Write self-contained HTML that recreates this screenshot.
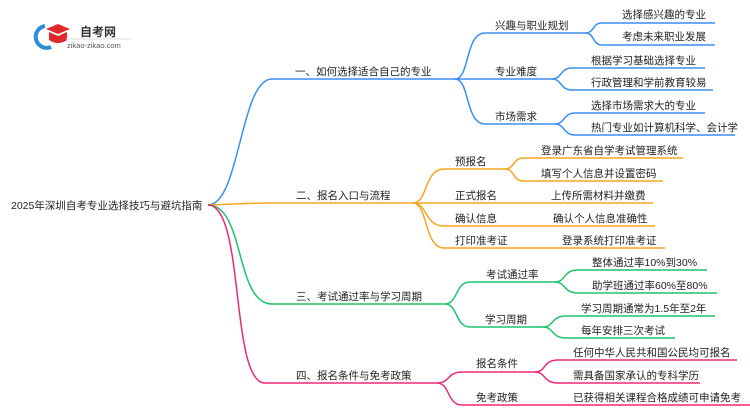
<!DOCTYPE html>
<html><head><meta charset="utf-8"><style>
html,body{margin:0;padding:0;background:#fff;width:750px;height:410px;overflow:hidden}
svg text{font-family:"Liberation Sans","Noto Sans CJK SC",sans-serif;font-size:10.5px;fill:#222}
</style></head><body>
<svg width="750" height="410" viewBox="0 0 750 410" xmlns="http://www.w3.org/2000/svg">
<g>
<path d="M45 26 A11 11 0 1 0 51 47" fill="none" stroke="#2a8fd8" stroke-width="4"/>
<polygon points="46,29 58,24 70,29 58,34" fill="#e02a2a"/>
<path d="M49 32 L49 40 Q58 46 67 40 L67 32 L58 36 Z" fill="#e02a2a"/>
<text x="80" y="36" style="font-size:12px;font-weight:bold;fill:#333">自考网</text>
<line x1="66" y1="39" x2="131" y2="39" stroke="#ddd" stroke-width="1"/>
<text x="67" y="48" style="font-size:7.5px;fill:#555">zikao-zikao.com</text>
</g>
<text x="11" y="209">2025年深圳自考专业选择技巧与避坑指南</text>
<g fill="none" stroke-width="1.5">
<g stroke="#3a8ef0">
<path d="M208 205 C240 205,240 79,272 79 L455 79"/>
<path d="M455 79 C470 79,465 33,485 33 L585 33"/>
<path d="M585 33 C595 33,592 23,602 23 L715 23"/>
<path d="M585 33 C595 33,592 45,602 45 L715 45"/>
<path d="M455 79 L552 79"/>
<path d="M455 79 C470 79,465 124,485 124 L555 124"/>
<path d="M552 79 C562 79,560 68,572 68 L705 68"/>
<path d="M552 79 C562 79,560 90,572 90 L713 90"/>
<path d="M555 124 C565 124,563 113,575 113 L705 113"/>
<path d="M555 124 C565 124,563 135,575 135 L735 135"/>
</g>
<g stroke="#f5a623">
<path d="M208 205 C240 204,250 203,272 203 L413 203"/>
<path d="M413 203 C428 203,424 169,444 169 L505 169"/>
<path d="M505 169 C515 169,512 158,524 158 L683 158"/>
<path d="M505 169 C515 169,512 181,524 181 L663 181"/>
<path d="M413 203 L653 203"/>
<path d="M413 203 C428 203,424 226,444 226 L655 226"/>
<path d="M413 203 C428 203,424 248,444 248 L665 248"/>
</g>
<g stroke="#1fc46b">
<path d="M208 205 C245 205,235 304,272 304 L445 304"/>
<path d="M445 304 C458 304,455 282,470 282 L555 282"/>
<path d="M445 304 C458 304,455 327,470 327 L543 327"/>
<path d="M555 282 C566 282,563 270,578 270 L707 270"/>
<path d="M555 282 C566 282,563 293,578 293 L717 293"/>
<path d="M543 327 C554 327,551 316,566 316 L715 316"/>
<path d="M543 327 C554 327,551 338,566 338 L675 338"/>
</g>
<g stroke="#f0287a">
<path d="M208 205 C245 205,230 383,265 383 L437 383"/>
<path d="M437 383 C450 383,447 372,462 372 L535 372"/>
<path d="M437 383 C450 383,447 405,462 405 L750 405"/>
<path d="M535 372 C546 372,543 360,558 360 L737 360"/>
<path d="M535 372 C546 372,543 383,558 383 L700 383"/>
</g>
</g>
<text x="295" y="75">一、如何选择适合自己的专业</text>
<text x="495" y="29">兴趣与职业规划</text>
<text x="622" y="18">选择感兴趣的专业</text>
<text x="622" y="40">考虑未来职业发展</text>
<text x="495" y="75">专业难度</text>
<text x="591" y="64">根据学习基础选择专业</text>
<text x="591" y="86">行政管理和学前教育较易</text>
<text x="495" y="120">市场需求</text>
<text x="591" y="109">选择市场需求大的专业</text>
<text x="591" y="131">热门专业如计算机科学、会计学</text>

<text x="296" y="199">二、报名入口与流程</text>
<text x="455" y="165">预报名</text>
<text x="541" y="154">登录广东省自学考试管理系统</text>
<text x="541" y="177">填写个人信息并设置密码</text>
<text x="455" y="199">正式报名</text>
<text x="551" y="199">上传所需材料并缴费</text>
<text x="455" y="222">确认信息</text>
<text x="553" y="222">确认个人信息准确性</text>
<text x="455" y="244">打印准考证</text>
<text x="562" y="244">登录系统打印准考证</text>

<text x="296" y="300">三、考试通过率与学习周期</text>
<text x="486" y="278">考试通过率</text>
<text x="592" y="266">整体通过率10%到30%</text>
<text x="592" y="289">助学班通过率60%至80%</text>
<text x="485" y="323">学习周期</text>
<text x="581" y="312">学习周期通常为1.5年至2年</text>
<text x="581" y="334">每年安排三次考试</text>

<text x="296" y="379">四、报名条件与免考政策</text>
<text x="476" y="367">报名条件</text>
<text x="573" y="356">任何中华人民共和国公民均可报名</text>
<text x="573" y="379">需具备国家承认的专科学历</text>
<text x="476" y="401">免考政策</text>
<text x="573" y="401">已获得相关课程合格成绩可申请免考</text>
</svg>
</body></html>
